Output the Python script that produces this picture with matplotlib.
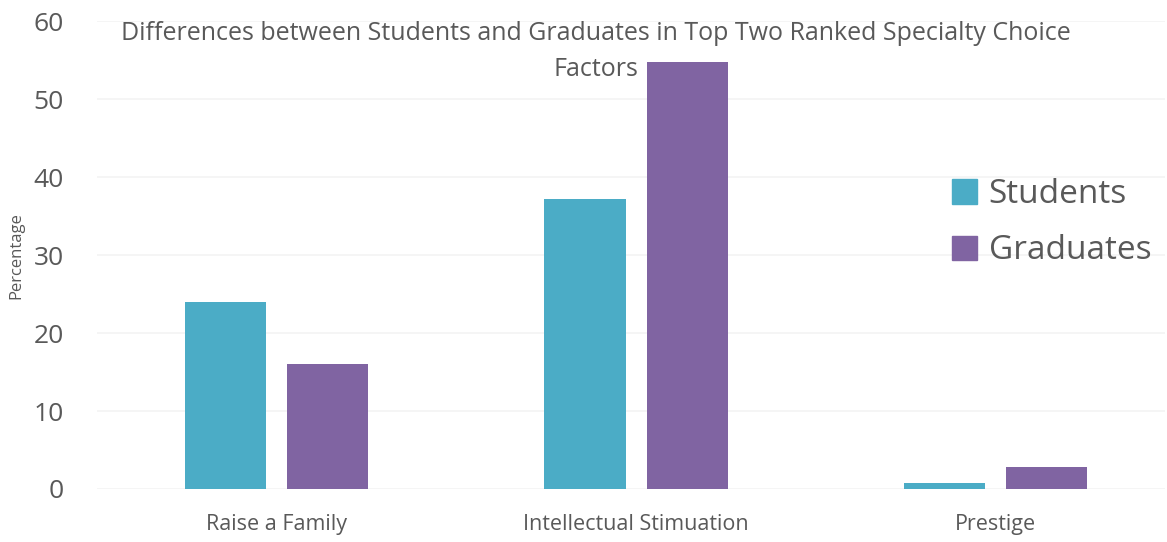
import numpy as np
import matplotlib.pyplot as plt
from matplotlib.patches import Patch

categories = ['Raise a Family', 'Intellectual Stimuation', 'Prestige']
students = [24.0, 37.2, 0.8]
graduates = [16.0, 54.8, 2.8]

teal = '#4BACC6'
purple = '#8064A2'
txt = '#595959'

plt.rcParams['font.family'] = ['Open Sans', 'DejaVu Sans']

fig = plt.figure(figsize=(11.67, 5.42), dpi=100)
ax = fig.add_axes([0.083, 0.0978, 0.915, 0.863])

x = np.arange(len(categories))
w = 0.226
off = 0.142
ax.bar(x - off, students, w, color=teal)
ax.bar(x + off, graduates, w, color=purple)

ax.set_xlim(-0.5, 2.47)
ax.set_ylim(0, 60)
ax.set_yticks(range(0, 61, 10))
ax.set_xticks(x)
ax.set_xticklabels(categories, fontsize=15.5, color=txt)
ax.tick_params(axis='y', labelsize=19, labelcolor=txt, length=0, pad=24)
ax.tick_params(axis='x', length=0, pad=18)
ax.grid(axis='y', color='#f3f3f3', linewidth=1.2)
ax.set_axisbelow(True)
for s in ax.spines.values():
    s.set_visible(False)

ax.set_ylabel('Percentage', fontsize=12, color=txt, labelpad=4)
ax.yaxis.set_label_coords(-0.068, 0.5)

fig.text(0.511, 0.905, 'Differences between Students and Graduates in Top Two Ranked Specialty Choice\nFactors',
         ha='center', va='center', fontsize=18, color=txt, linespacing=1.62)

handles = [Patch(color=teal, label='Students'), Patch(color=purple, label='Graduates')]
fig.legend(handles=handles, loc='center left', bbox_to_anchor=(0.79, 0.589), frameon=False,
           fontsize=24, labelcolor=txt, handlelength=0.75, handleheight=0.75, handletextpad=0.35,
           labelspacing=0.7)

fig.savefig('out.png', dpi=100)
